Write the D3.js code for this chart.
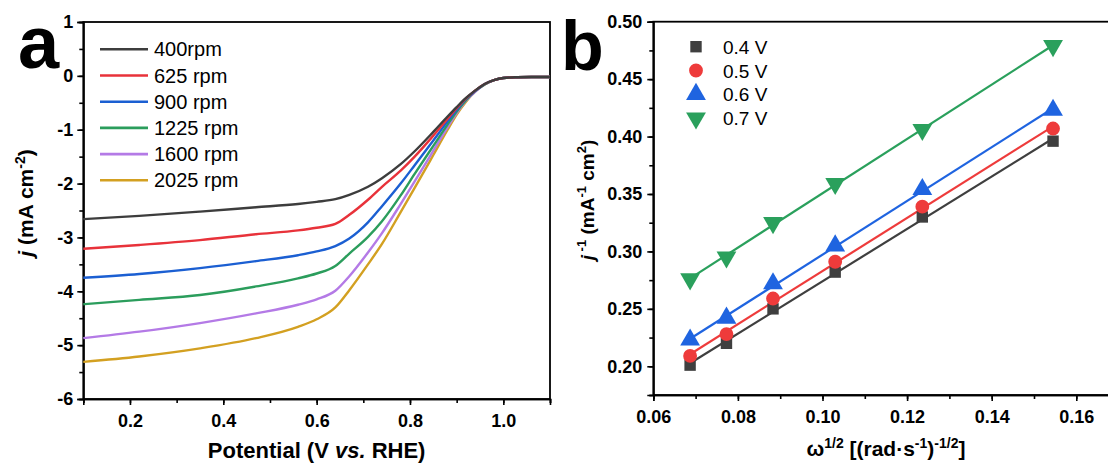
<!DOCTYPE html>
<meta charset="utf-8">
<style>
    body { margin: 0; background: #fff; }
    svg text { font-family: "Liberation Sans", Arial, sans-serif; }
    .axis path, .axis line { stroke: #000; stroke-width: 1.6px; }
    .axis text { font-size: 18px; font-weight: bold; fill: #000; }
    .frame { fill: none; stroke: #000; stroke-width: 1.8px; }
</style>
<svg width="1108" height="469"></svg>
<script src="https://d3js.org/d3.v7.min.js"></script>
<script>

    // ---- panel a : LSV curves ----
    var potential = [0.10, 0.22, 0.35, 0.47, 0.56, 0.60, 0.64, 0.67, 0.71, 0.74, 0.78, 0.81, 0.85, 0.88, 0.90, 0.92, 0.94, 0.96, 0.98, 1.00, 1.03, 1.06, 1.10];
    var j400  = [-2.66, -2.60, -2.52, -2.44, -2.38, -2.34, -2.29, -2.21, -2.06, -1.90, -1.64, -1.40, -1.04, -0.76, -0.58, -0.41, -0.27, -0.15, -0.08, -0.04, -0.025, -0.02, -0.02];
    var j625  = [-3.21, -3.14, -3.05, -2.94, -2.87, -2.82, -2.75, -2.58, -2.30, -2.06, -1.76, -1.50, -1.11, -0.80, -0.60, -0.42, -0.27, -0.15, -0.08, -0.04, -0.025, -0.02, -0.02];
    var j900  = [-3.75, -3.68, -3.57, -3.44, -3.33, -3.26, -3.16, -3.02, -2.72, -2.42, -2.00, -1.66, -1.20, -0.85, -0.63, -0.43, -0.28, -0.15, -0.08, -0.04, -0.025, -0.02, -0.02];
    var j1225 = [-4.24, -4.16, -4.07, -3.91, -3.76, -3.67, -3.53, -3.30, -2.99, -2.70, -2.22, -1.82, -1.30, -0.91, -0.66, -0.45, -0.28, -0.16, -0.08, -0.04, -0.025, -0.02, -0.02];
    var j1600 = [-4.87, -4.75, -4.59, -4.41, -4.25, -4.15, -3.99, -3.72, -3.28, -2.92, -2.38, -1.96, -1.39, -0.96, -0.69, -0.46, -0.29, -0.16, -0.08, -0.04, -0.025, -0.02, -0.02];
    var j2025 = [-5.31, -5.21, -5.06, -4.87, -4.66, -4.52, -4.30, -3.98, -3.50, -3.12, -2.53, -2.08, -1.47, -1.01, -0.72, -0.48, -0.29, -0.16, -0.08, -0.04, -0.025, -0.02, -0.02];
    var rpmLabels = ["400rpm", "625 rpm", "900 rpm", "1225 rpm", "1600 rpm", "2025 rpm"];
    var rpmColors = ["#3d3d3d", "#e8323a", "#1b5fd2", "#2b9d5c", "#b47ae6", "#d3a021"];

    // ---- panel b : Koutecky-Levich ----
    var omegaInvSqrt = [0.0687, 0.0773, 0.0883, 0.1030, 0.1236, 0.1545];
    var inv04 = [0.201, 0.220, 0.250, 0.282, 0.330, 0.396];
    var inv05 = [0.209, 0.228, 0.259, 0.291, 0.339, 0.407];
    var inv06 = [0.223, 0.242, 0.272, 0.305, 0.354, 0.423];
    var inv07 = [0.276, 0.295, 0.325, 0.359, 0.406, 0.479];
    var klLabels = ["0.4 V", "0.5 V", "0.6 V", "0.7 V"];
    var klColors = ["#3f3f3f", "#ee3b3b", "#1f64e0", "#2aa05c"];

    var svg = d3.select("svg");

    // ================= panel a =================
    var xa = d3.scaleLinear().domain([0.1, 1.1]).range([83.3, 550]);
    var ya = d3.scaleLinear().domain([-6, 1]).range([399, 22]);

    var ga = svg.append("g");

    ga.append("g").attr("class", "axis")
            .attr("transform", "translate(0," + ya(-6) + ")")
            .call(d3.axisBottom(xa).tickValues(d3.range(0.1, 1.101, 0.1)).tickSize(4).tickFormat(""));
    ga.append("g").attr("class", "axis")
            .attr("transform", "translate(0," + ya(-6) + ")")
            .call(d3.axisBottom(xa).tickValues([0.2, 0.4, 0.6, 0.8, 1.0]).tickSize(6).tickPadding(9)
                    .tickFormat(d3.format(".1f")));
    ga.append("g").attr("class", "axis")
            .attr("transform", "translate(" + xa(0.1) + ",0)")
            .call(d3.axisLeft(ya).tickValues(d3.range(-6, 1.01, 0.5)).tickSize(4).tickFormat(""));
    ga.append("g").attr("class", "axis")
            .attr("transform", "translate(" + xa(0.1) + ",0)")
            .call(d3.axisLeft(ya).tickValues(d3.range(-6, 2, 1)).tickSize(6).tickPadding(4)
                    .tickFormat(function(d) { return d; }));

    ga.append("rect").attr("class", "frame")
            .attr("x", xa(0.1)).attr("y", ya(1))
            .attr("width", xa(1.1) - xa(0.1)).attr("height", ya(-6) - ya(1));

    var lsv = [j400, j625, j900, j1225, j1600, j2025];
    var lineA = d3.line()
            .x(function(d) { return xa(d[0]); })
            .y(function(d) { return ya(d[1]); })
            .curve(d3.curveMonotoneX);

    // draw from fastest to slowest so black is on top near convergence
    for (var i = lsv.length - 1; i >= 0; i--) {
        ga.append("path")
                .datum(potential.map(function(v, k) { return [v, lsv[i][k]]; }))
                .attr("fill", "none")
                .attr("stroke", rpmColors[i])
                .attr("stroke-width", 2.4)
                .attr("d", lineA);
    }

    var legA = ga.append("g");
    rpmLabels.forEach(function(lab, i) {
        var y = 49.3 + i * 26.2;
        legA.append("line").attr("x1", 100).attr("x2", 148).attr("y1", y).attr("y2", y)
                .attr("stroke", rpmColors[i]).attr("stroke-width", 2.6);
        legA.append("text").attr("x", 154).attr("y", y + 7)
                .style("font-size", "20px").text(lab);
    });

    ga.append("text").attr("x", 18).attr("y", 68)
            .style("font-size", "74px").style("font-weight", "bold").text("a");

    var xla = ga.append("text").attr("x", (xa(0.1) + xa(1.1)) / 2).attr("y", 458)
            .attr("text-anchor", "middle").style("font-size", "22px").style("font-weight", "bold");
    xla.append("tspan").text("Potential (V ");
    xla.append("tspan").style("font-style", "italic").text("vs.");
    xla.append("tspan").text(" RHE)");

    var yla = ga.append("text").attr("transform", "translate(33,203) rotate(-90)")
            .attr("text-anchor", "middle").style("font-size", "21px").style("font-weight", "bold");
    yla.append("tspan").style("font-style", "italic").text("j");
    yla.append("tspan").text(" (mA cm");
    yla.append("tspan").attr("dy", -8).style("font-size", "14px").text("-2");
    yla.append("tspan").attr("dy", 8).text(")");

    // ================= panel b =================
    var xb = d3.scaleLinear().domain([0.06, 0.17]).range([653.3, 1118.6]);
    var yb = d3.scaleLinear().domain([0.175, 0.50]).range([395, 21.7]);

    var gb = svg.append("g");

    gb.append("g").attr("class", "axis")
            .attr("transform", "translate(0," + yb(0.175) + ")")
            .call(d3.axisBottom(xb).tickValues(d3.range(0.06, 0.1701, 0.01)).tickSize(4).tickFormat(""));
    gb.append("g").attr("class", "axis")
            .attr("transform", "translate(0," + yb(0.175) + ")")
            .call(d3.axisBottom(xb).tickValues([0.06, 0.08, 0.10, 0.12, 0.14, 0.16]).tickSize(6).tickPadding(9)
                    .tickFormat(d3.format(".2f")));
    gb.append("g").attr("class", "axis")
            .attr("transform", "translate(" + xb(0.06) + ",0)")
            .call(d3.axisLeft(yb).tickValues(d3.range(0.175, 0.5001, 0.025)).tickSize(4).tickFormat(""));
    gb.append("g").attr("class", "axis")
            .attr("transform", "translate(" + xb(0.06) + ",0)")
            .call(d3.axisLeft(yb).tickValues([0.20, 0.25, 0.30, 0.35, 0.40, 0.45, 0.50]).tickSize(6).tickPadding(5)
                    .tickFormat(d3.format(".2f")));

    gb.append("rect").attr("class", "frame")
            .attr("x", xb(0.06)).attr("y", yb(0.5))
            .attr("width", xb(0.17) - xb(0.06)).attr("height", yb(0.175) - yb(0.5));

    var kl = [inv04, inv05, inv06, inv07];
    var shapes = [d3.symbolSquare, d3.symbolCircle, d3.symbolTriangle, d3.symbolTriangle];
    var sizes = [130, 150, 170, 170];
    var rot = [0, 0, 0, 180];

    function fit(xs, ys) {
        var mx = d3.mean(xs), my = d3.mean(ys);
        var sxy = d3.sum(xs, function(x, k) { return (x - mx) * (ys[k] - my); });
        var sxx = d3.sum(xs, function(x) { return (x - mx) * (x - mx); });
        var b = sxy / sxx;
        return { b: b, a: my - b * mx };
    }

    kl.forEach(function(ys, i) {
        var f = fit(omegaInvSqrt, ys);
        var x0 = omegaInvSqrt[0], x1 = omegaInvSqrt[omegaInvSqrt.length - 1];
        gb.append("line")
                .attr("x1", xb(x0)).attr("y1", yb(f.a + f.b * x0))
                .attr("x2", xb(x1)).attr("y2", yb(f.a + f.b * x1))
                .attr("stroke", klColors[i]).attr("stroke-width", 2.2);
    });

    kl.forEach(function(ys, i) {
        gb.append("g").selectAll("path")
                .data(omegaInvSqrt.map(function(x, k) { return [x, ys[k]]; }))
                .enter().append("path")
                .attr("d", d3.symbol().type(shapes[i]).size(sizes[i]))
                .attr("transform", function(d) {
                    return "translate(" + xb(d[0]) + "," + yb(d[1]) + ") rotate(" + rot[i] + ")";
                })
                .attr("fill", klColors[i]);
    });

    var legB = gb.append("g");
    klLabels.forEach(function(lab, i) {
        var y = 46.7 + i * 23.8;
        legB.append("path")
                .attr("d", d3.symbol().type(shapes[i]).size(sizes[i]))
                .attr("transform", "translate(696," + y + ") rotate(" + rot[i] + ")")
                .attr("fill", klColors[i]);
        legB.append("text").attr("x", 723).attr("y", y + 7)
                .style("font-size", "19px").text(lab);
    });

    gb.append("text").attr("x", 561).attr("y", 70)
            .style("font-size", "70px").style("font-weight", "bold").text("b");

    var xlb = gb.append("text").attr("x", (xb(0.06) + xb(0.17)) / 2).attr("y", 456)
            .attr("text-anchor", "middle").style("font-size", "21px").style("font-weight", "bold");
    xlb.append("tspan").text("\u03c9");
    xlb.append("tspan").attr("dy", -8).style("font-size", "14px").text("1/2");
    xlb.append("tspan").attr("dy", 8).text(" [(rad\u00b7s");
    xlb.append("tspan").attr("dy", -8).style("font-size", "14px").text("-1");
    xlb.append("tspan").attr("dy", 8).text(")");
    xlb.append("tspan").attr("dy", -8).style("font-size", "14px").text("-1/2");
    xlb.append("tspan").attr("dy", 8).text("]");

    var ylb = gb.append("text").attr("transform", "translate(594,200) rotate(-90)")
            .attr("text-anchor", "middle").style("font-size", "19px").style("font-weight", "bold");
    ylb.append("tspan").style("font-style", "italic").text("j");
    ylb.append("tspan").attr("dy", -8).style("font-size", "13px").text(" -1");
    ylb.append("tspan").attr("dy", 8).text(" (mA");
    ylb.append("tspan").attr("dy", -8).style("font-size", "13px").text("-1");
    ylb.append("tspan").attr("dy", 8).text(" cm");
    ylb.append("tspan").attr("dy", -8).style("font-size", "13px").text("2");
    ylb.append("tspan").attr("dy", 8).text(")");

</script>
